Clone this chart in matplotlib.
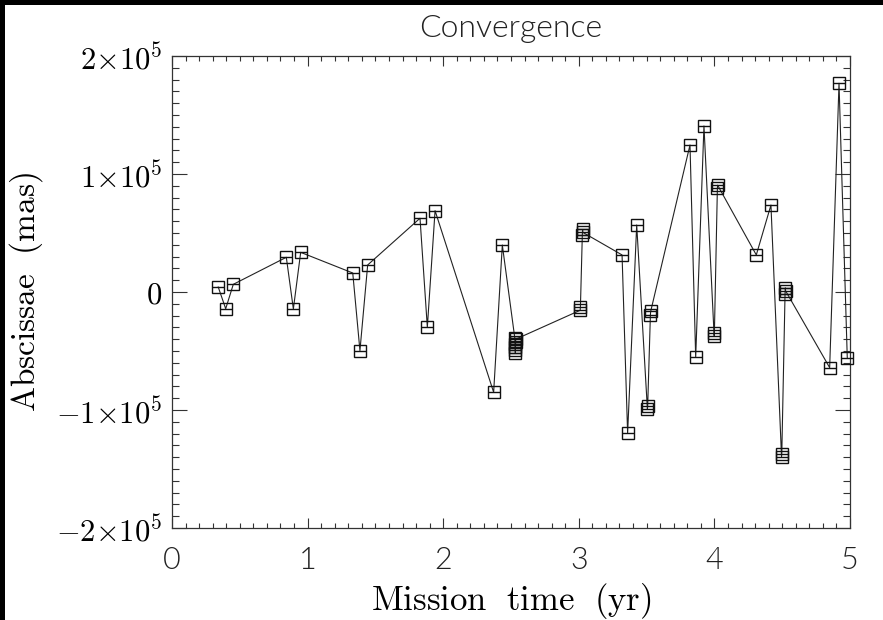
import matplotlib
matplotlib.use("Agg")
import matplotlib.pyplot as plt
from matplotlib.patches import Rectangle
from matplotlib.ticker import FixedLocator, MultipleLocator, FuncFormatter

# ---- data ----
mission_time = [0.341, 0.396, 0.452, 0.843, 0.895, 0.949, 1.333, 1.386, 1.443,
                1.829, 1.883, 1.940, 2.372, 2.436,
                2.528, 2.530, 2.531, 2.532, 2.533, 2.534, 2.535,
                3.010, 3.012, 3.026, 3.028, 3.030, 3.319, 3.360, 3.427,
                3.506, 3.508, 3.528, 3.530, 3.820, 3.862, 3.923,
                3.998, 4.000, 4.022, 4.024, 4.309, 4.417,
                4.495, 4.497, 4.521, 4.523, 4.525, 4.850, 4.919, 4.980]
abscissae = [4200, -14200, 6500, 29400, -14400, 33600, 16100, -49700, 22900,
             62500, -29900, 68900, -85000, 39800,
             -39000, -44000, -49000, -52000, -47000, -42000, -40000,
             -15500, -12500, 48500, 53000, 50500, 31400, -119700, 56800,
             -99500, -96500, -19500, -16500, 124600, -55300, 140700,
             -37000, -34500, 88000, 90500, 31400, 73700,
             -139500, -137000, -1500, 3500, 1000, -64100, 176900, -56200]

x_ticks = [0, 1, 2, 3, 4, 5]
y_ticks = [-200000, -100000, 0, 100000, 200000]
title = "Convergence"
xlabel = "Mission time (yr)"
ylabel = "Abscissae (mas)"

plt.rcParams["mathtext.fontset"] = "cm"
plt.rcParams["figure.facecolor"] = "white"
plt.rcParams["savefig.facecolor"] = "white"

fig = plt.figure(figsize=(8.83, 6.20), dpi=100)
ax = fig.add_axes([172 / 883, 92 / 620, 678 / 883, 472 / 620])
ax.set_facecolor("white")

ax.plot(mission_time, abscissae, color="#222222", lw=0.8, clip_on=False, zorder=2)
ax.plot(mission_time, abscissae, ls="none", marker="s", ms=8, mfc="none",
        mec="#111111", mew=1.0, clip_on=False, zorder=3)
ax.plot(mission_time, abscissae, ls="none", marker="_", ms=8,
        mec="#111111", mew=1.0, clip_on=False, zorder=3)

ax.set_xlim(0, 5)
ax.set_ylim(-200000, 200000)
ax.xaxis.set_major_locator(FixedLocator(x_ticks))
ax.xaxis.set_minor_locator(MultipleLocator(0.1))
ax.yaxis.set_major_locator(FixedLocator(y_ticks))
ax.yaxis.set_minor_locator(MultipleLocator(10000))


def yfmt(v, pos):
    if v == 0:
        return r"$0$"
    m = int(round(v / 1e5))
    return r"$%d{\times}10^5$" % m if m > 0 else r"$-%d{\times}10^5$" % (-m)


ax.yaxis.set_major_formatter(FuncFormatter(yfmt))
ax.xaxis.set_major_formatter(FuncFormatter(lambda v, p: "%d" % v))

ax.tick_params(axis="both", which="both", direction="in", top=True, right=True,
               color="#333333", width=0.8)
ax.tick_params(axis="x", which="major", length=7.2, pad=13)
ax.tick_params(axis="x", which="minor", length=3.6)
ax.tick_params(axis="y", which="major", length=10.5, pad=7, labelsize=22)
ax.tick_params(axis="y", which="minor", length=5.2)

for lab in ax.get_xticklabels():
    lab.set_fontfamily(["Lato", "DejaVu Sans"])
    lab.set_fontweight(300)
    lab.set_fontsize(22)
    lab.set_color("#222222")

for s in ax.spines.values():
    s.set_linewidth(0.9)
    s.set_color("#333333")

ax.set_title(title, fontsize=23, fontfamily=["Lato", "DejaVu Sans"],
             fontweight=300, color="#222222", pad=14)
ax.set_xlabel(r"$\mathrm{Mission\ \ time\ \ (yr)}$", fontsize=25, labelpad=4)
ax.set_ylabel(r"$\mathrm{Abscissae\ \ (mas)}$", fontsize=24)
ax.yaxis.set_label_coords((45 - 172) / 678, 0.5)

# black strips on top and left edges as in the reference
fig.add_artist(Rectangle((0, 1 - 5 / 620), 1, 5 / 620, transform=fig.transFigure,
                         facecolor="black", edgecolor="none", zorder=10))
fig.add_artist(Rectangle((0, 0), 5 / 883, 1, transform=fig.transFigure,
                         facecolor="black", edgecolor="none", zorder=10))

fig.savefig("out.png", dpi=100, facecolor="white")
